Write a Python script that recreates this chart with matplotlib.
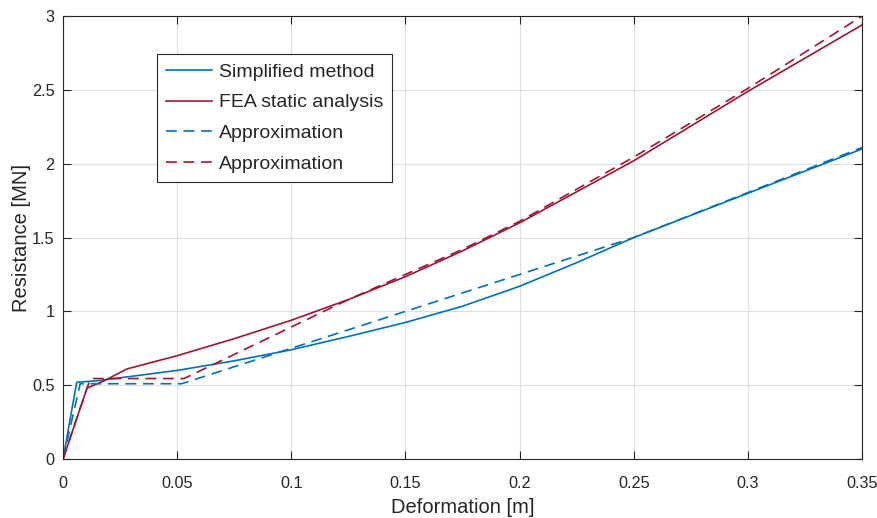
import matplotlib
matplotlib.use("Agg")
import matplotlib.pyplot as plt

plt.rcParams['font.family'] = ['Liberation Sans', 'DejaVu Sans']

# Simplified method (blue solid)
sm_x = [0, 0.006, 0.015, 0.03, 0.05, 0.075, 0.1, 0.125, 0.15, 0.175, 0.2, 0.225, 0.25, 0.3, 0.35]
sm_y = [0, 0.52, 0.53, 0.56, 0.60, 0.665, 0.74, 0.83, 0.925, 1.035, 1.17, 1.33, 1.50, 1.80, 2.10]

# FEA static analysis (red solid)
fea_x = [0, 0.0105, 0.018, 0.028, 0.05, 0.075, 0.1, 0.125, 0.15, 0.175, 0.2, 0.225, 0.25, 0.3, 0.35]
fea_y = [0, 0.48, 0.53, 0.61, 0.70, 0.815, 0.94, 1.08, 1.235, 1.41, 1.60, 1.81, 2.02, 2.49, 2.94]

# Approximation (blue dashed)
ab_x = [0, 0.0075, 0.052, 0.25, 0.35]
ab_y = [0, 0.51, 0.51, 1.50, 2.11]

# Approximation (red dashed)
ar_x = [0, 0.0105, 0.012, 0.053, 0.125, 0.15, 0.175, 0.2, 0.25, 0.3, 0.35]
ar_y = [0, 0.48, 0.545, 0.545, 1.08, 1.25, 1.42, 1.61, 2.045, 2.51, 3.00]

blue = '#0072BD'
red = '#A2142F'
dark = '#262626'

fig = plt.figure(figsize=(8.78, 5.18), dpi=100)
ax = fig.add_axes([0.0718, 0.1139, 0.91, 0.855])

dash = (0, (6.5, 4))
ax.plot(sm_x, sm_y, color=blue, lw=1.2, label='Simplified method')
ax.plot(fea_x, fea_y, color=red, lw=1.2, label='FEA static analysis')
ax.plot(ab_x, ab_y, color=blue, lw=1.2, ls=dash, label='Approximation')
ax.plot(ar_x, ar_y, color=red, lw=1.2, ls=dash, label='Approximation')

ax.set_xlim(0, 0.35)
ax.set_ylim(0, 3)
ax.set_xticks([0, 0.05, 0.1, 0.15, 0.2, 0.25, 0.3, 0.35])
ax.set_xticklabels(['0', '0.05', '0.1', '0.15', '0.2', '0.25', '0.3', '0.35'])
ax.set_yticks([0, 0.5, 1, 1.5, 2, 2.5, 3])
ax.set_yticklabels(['0', '0.5', '1', '1.5', '2', '2.5', '3'])
ax.grid(True, color='#DFDFDF', lw=0.8)
ax.set_axisbelow(True)
ax.tick_params(direction='in', labelsize=11.7, color=dark, labelcolor=dark,
               length=5.5, width=0.8, pad=6, top=True, right=True)
ax.tick_params(axis='x', pad=12.5)
for s in ax.spines.values():
    s.set_color(dark)
    s.set_linewidth(0.8)

ax.set_xlabel('Deformation [m]', fontsize=14.5, color=dark, labelpad=4.5)
ax.set_ylabel('Resistance [MN]', fontsize=14.5, color=dark, labelpad=1)

leg = ax.legend(loc='upper left', bbox_to_anchor=(0.1176, 0.914), fontsize=14,
                frameon=True, fancybox=False, edgecolor=dark, framealpha=1,
                handlelength=2.4, handletextpad=0.35, borderpad=0.45,
                labelspacing=0.68, borderaxespad=0)
leg.get_frame().set_linewidth(0.8)
for t in leg.get_texts():
    t.set_color(dark)

fig.savefig('out.png', dpi=100)
